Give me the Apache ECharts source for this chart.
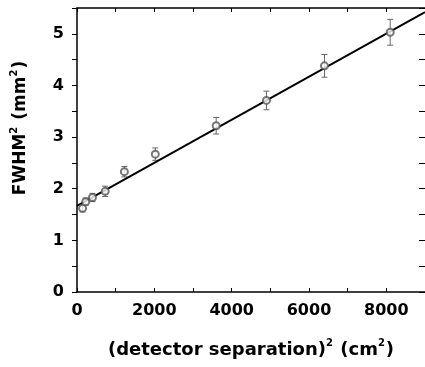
<!DOCTYPE html>
<html>
<head>
<meta charset="utf-8">
<script src="https://cdn.jsdelivr.net/npm/echarts@6/dist/echarts.min.js"></script>
<style>
  html, body { margin: 0; padding: 0; background: #fff; }
  #chart { width: 425px; height: 367px; }
</style>
</head>
<body>
<div id="chart"></div>
<script>
// separation^2 in cm^2
const xValues = [144, 225, 400, 729, 1225, 2025, 3600, 4900, 6400, 8100];
// FWHM^2 in mm^2
const yValues = [1.62, 1.75, 1.83, 1.95, 2.33, 2.67, 3.22, 3.71, 4.38, 5.03];
const yErrors = [0.07, 0.07, 0.08, 0.10, 0.10, 0.12, 0.16, 0.18, 0.22, 0.25];
// linear fit end points
const fitX = [0, 9000];
const fitY = [1.67, 5.42];

const points = xValues.map((x, i) => [x, yValues[i]]);
const bars = xValues.map((x, i) => [x, yValues[i] - yErrors[i], yValues[i] + yErrors[i]]);
const fitLine = fitX.map((x, i) => [x, fitY[i]]);

const chart = echarts.init(document.getElementById('chart'));
const font = 'DejaVu Sans';

function nameRich(size) {
    return {
        t: { fontFamily: font, fontWeight: 'bold', fontSize: size, color: '#000' },
        s: { fontFamily: font, fontWeight: 'bold', fontSize: 10, color: '#000', verticalAlign: 'top', padding: [0, 1, 14, 0] }
    };
}
const tickLabel = {
    fontFamily: font, fontWeight: 'bold', fontSize: 16, color: '#000',
    formatter: v => String(v)
};

chart.setOption({
    animation: false,
    grid: { left: 77, top: 8, width: 351, height: 284 },
    xAxis: [{
        type: 'value', min: 0, max: 9000, interval: 2000,
        position: 'bottom',
        name: '{t|(detector separation)}{s|2}{t| (cm}{s|2}{t|)}',
        nameLocation: 'middle', nameGap: 46,
        nameTextStyle: { rich: nameRich(18) },
        axisLine: { onZero: false, lineStyle: { color: '#000', width: 1.5 } },
        axisTick: { inside: true, length: 4, lineStyle: { color: '#000' } },
        minorTick: { show: true, splitNumber: 2, length: 4, lineStyle: { color: '#000' } },
        axisLabel: Object.assign({ margin: 11, showMaxLabel: false }, tickLabel),
        splitLine: { show: false }
    }, {
        type: 'value', min: 0, max: 9000, interval: 2000,
        position: 'top',
        axisLine: { onZero: false, lineStyle: { color: '#000', width: 1.5 } },
        axisTick: { inside: true, length: 4, lineStyle: { color: '#000' } },
        minorTick: { show: true, splitNumber: 2, length: 4, lineStyle: { color: '#000' } },
        axisLabel: { show: false },
        splitLine: { show: false }
    }],
    yAxis: [{
        type: 'value', min: 0, max: 5.5, interval: 1,
        position: 'left',
        name: '{t|FWHM}{s|2}{t| (mm}{s|2}{t|)}',
        nameLocation: 'middle', nameGap: 44, nameRotate: 90,
        nameTextStyle: { rich: nameRich(17), padding: [0, 0, 0, 44] },
        axisLine: { show: true, onZero: false, lineStyle: { color: '#000', width: 1.5 } },
        axisTick: { show: true, length: 5, lineStyle: { color: '#000' } },
        minorTick: { show: true, splitNumber: 2, length: 5, lineStyle: { color: '#000' } },
        axisLabel: Object.assign({ margin: 13, showMaxLabel: false }, tickLabel),
        splitLine: { show: false }
    }, {
        type: 'value', min: 0, max: 5.5, interval: 1,
        position: 'right',
        axisLine: { show: false, onZero: false },
        axisTick: { show: true, inside: true, length: 6, lineStyle: { color: '#000' } },
        minorTick: { show: true, splitNumber: 2, length: 6, lineStyle: { color: '#000' } },
        axisLabel: { show: false },
        splitLine: { show: false }
    }],
    series: [{
        type: 'line',
        data: fitLine,
        symbol: 'none',
        lineStyle: { color: '#000', width: 2 },
        z: 3
    }, {
        type: 'custom',
        data: bars,
        renderItem: function (params, api) {
            const x = api.value(0);
            const lo = api.coord([x, api.value(1)]);
            const hi = api.coord([x, api.value(2)]);
            const w = 3;
            const st = { stroke: '#666', lineWidth: 1 };
            return {
                type: 'group',
                children: [
                    { type: 'line', shape: { x1: lo[0], y1: lo[1], x2: hi[0], y2: hi[1] }, style: st },
                    { type: 'line', shape: { x1: lo[0] - w, y1: lo[1], x2: lo[0] + w, y2: lo[1] }, style: st },
                    { type: 'line', shape: { x1: hi[0] - w, y1: hi[1], x2: hi[0] + w, y2: hi[1] }, style: st }
                ]
            };
        },
        z: 2
    }, {
        type: 'scatter',
        data: points,
        symbol: 'emptyCircle',
        symbolSize: 7,
        itemStyle: { color: '#555', borderWidth: 1 },
        z: 4
    }]
});
</script>
</body>
</html>
